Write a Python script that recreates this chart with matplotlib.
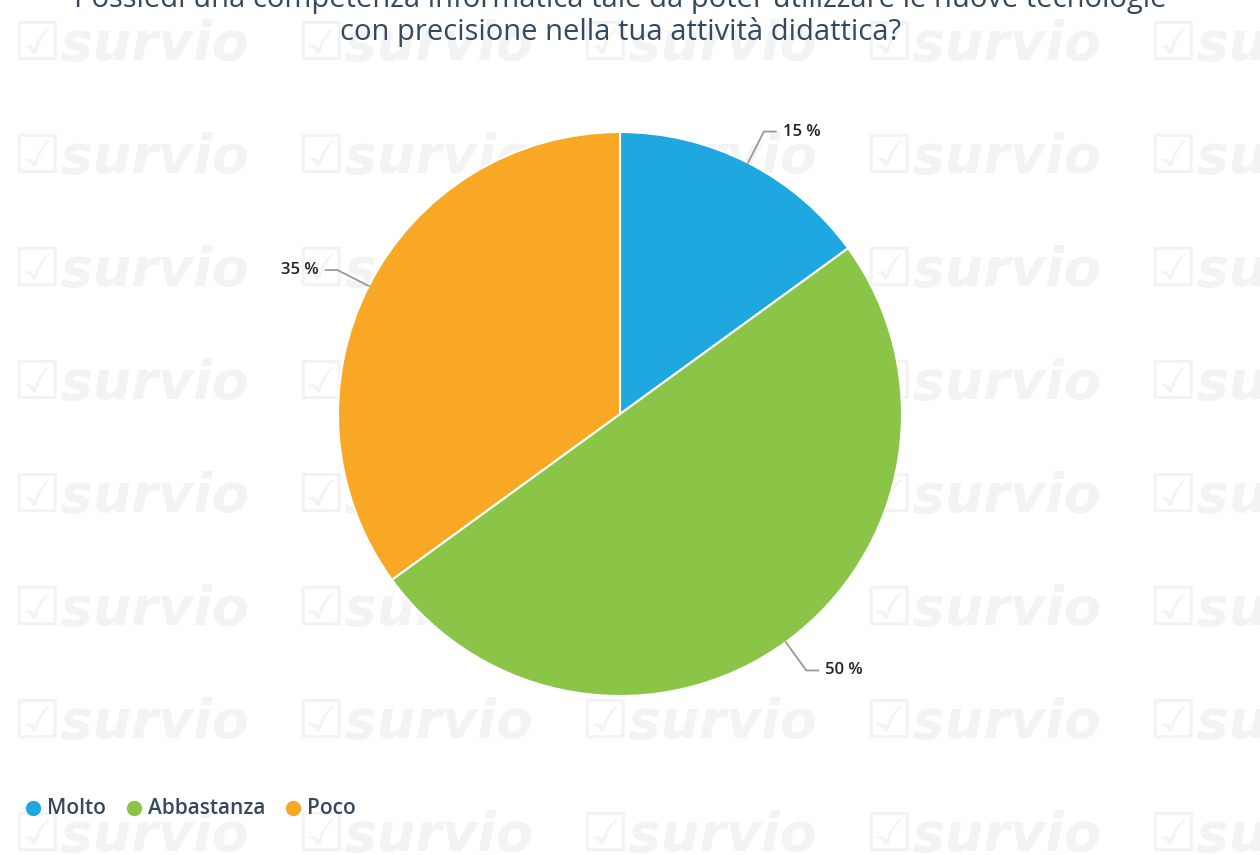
import numpy as np
import matplotlib.pyplot as plt

## Data
labels = ['Molto', 'Abbastanza', 'Poco']
values = [15, 50, 35]
colors = ['#1fa8e0', '#8bc548', '#f9a825']
title = ('Possiedi una competenza informatica tale da poter utilizzare le nuove tecnologie\n'
         'con precisione nella tua attività didattica?')

W, H = 1260, 855
fig = plt.figure(figsize=(W/100, H/100), dpi=100)
ax = fig.add_axes([0, 0, 1, 1])

# faint watermark tiles
for yy in np.arange(45, 900, 113):
    for xx in np.arange(12, 1300, 284):
        ax.text(xx, H-yy, '☑survio', fontsize=39, fontweight='bold', style='italic',
                color='#f3f3f3', ha='left', va='center', zorder=0, clip_on=True)

# pie in pixel coordinates
cx, cy, r = 620, H-414, 282
ax.pie(values, colors=colors, startangle=90, counterclock=False, center=(cx, cy),
       radius=r, wedgeprops=dict(edgecolor='white', linewidth=1.5), frame=True)
ax.set_xlim(0, W)
ax.set_ylim(0, H)
ax.set_aspect('equal')
ax.axis('off')

# leader lines and percent labels
start = 90.
for v in values:
    mid = np.deg2rad(start - v*360/100/2)
    start -= v*360/100
    c, s = np.cos(mid), np.sin(mid)
    p0 = (cx + r*c, cy + r*s)
    p1 = (cx + (r+35)*c, cy + (r+35)*s)
    side = 1 if c >= 0 else -1
    p2 = (p1[0] + side*12, p1[1])
    ax.plot([p0[0], p1[0], p2[0]], [p0[1], p1[1], p2[1]], color='#999999', lw=1.3,
            solid_joinstyle='round', zorder=3)
    ax.text(p2[0] + side*7, p2[1], '%d %%' % v, fontsize=12, color='#222222',
            ha='left' if side > 0 else 'right', va='center', family='Open Sans',
            fontweight='semibold')

# title (first line runs off the top)
ax.text(620, H-16, title, fontsize=21, color='#34495e', ha='center', va='center',
        family='Open Sans', linespacing=1.15)

# legend
lx, ly = 33, H-808
for lab, col in zip(labels, colors):
    ax.plot(lx, ly, 'o', color=col, ms=10, zorder=3)
    t = ax.text(lx + 14, ly, lab, fontsize=15, color='#34495e', ha='left', va='center',
                family='Open Sans', fontweight='semibold')
    fig.canvas.draw()
    bb = t.get_window_extent()
    lx = bb.x1 + 28

fig.savefig('out.png', dpi=100)
